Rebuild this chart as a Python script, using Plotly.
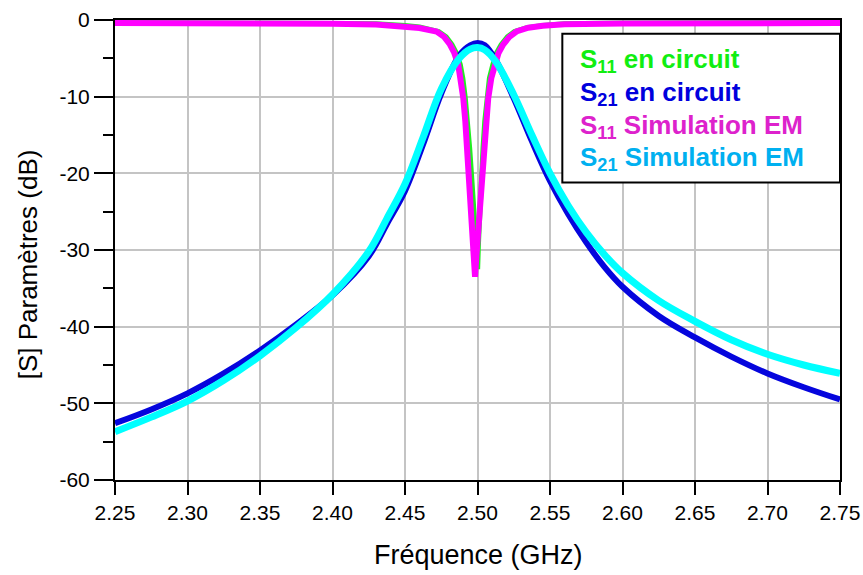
import plotly.graph_objects as go

# ---------------- data ----------------
freq_s21 = [2.25, 2.275, 2.30, 2.325, 2.35, 2.375, 2.40, 2.425, 2.4375, 2.45,
            2.4625, 2.475, 2.4875, 2.495, 2.50, 2.505, 2.5125, 2.525, 2.5375,
            2.55, 2.5625, 2.575, 2.5875, 2.60, 2.625, 2.65, 2.675, 2.70, 2.725, 2.75]
s21_circuit = [-52.6, -50.8, -48.7, -46.1, -43.1, -39.7, -35.9, -30.8, -26.6, -22.3,
               -16.2, -9.6, -4.6, -3.3, -3.0, -3.3, -5.2, -10.2, -15.8,
               -21.0, -25.3, -29.0, -32.2, -34.8, -38.6, -41.4, -43.9, -46.1, -47.9, -49.5]
s21_em = [-53.7, -51.8, -49.7, -47.0, -43.8, -40.1, -35.8, -30.2, -25.9, -21.4,
          -15.3, -9.0, -5.0, -3.8, -3.6, -3.9, -5.4, -9.75, -15.0,
          -20.0, -24.2, -27.7, -30.6, -33.0, -36.6, -39.3, -41.7, -43.6, -45.0, -46.1]

freq_s11_em = [2.25, 2.30, 2.35, 2.40, 2.43, 2.45, 2.46, 2.4718, 2.4770, 2.4810,
               2.4840, 2.4867, 2.4885, 2.4902, 2.4916, 2.4929, 2.4942, 2.4955, 2.4969,
               2.4983, 2.4997, 2.5012, 2.5028, 2.5044, 2.5059, 2.5074, 2.5095, 2.5120,
               2.5145, 2.5177, 2.5220, 2.5269, 2.535, 2.545, 2.56, 2.60, 2.65, 2.70, 2.75]
s11_em = [-0.4, -0.4, -0.45, -0.5, -0.6, -0.8, -1.05, -1.5, -2.2, -3.2,
          -4.3, -5.8, -7.6, -10.2, -13.2, -16.7, -20.8, -25.4, -29.8,
          -33.5, -29.6, -25.4, -20.8, -16.7, -13.2, -10.2, -7.6, -5.8,
          -4.3, -3.2, -2.2, -1.5, -1.0, -0.75, -0.55, -0.45, -0.4, -0.4, -0.4]

freq_s11_circuit = [2.25, 2.35, 2.40, 2.43, 2.45, 2.46, 2.4732, 2.4784, 2.4824, 2.4854,
                    2.4881, 2.4899, 2.4916, 2.4932, 2.4946, 2.4961, 2.4975, 2.4988, 2.5001,
                    2.5007, 2.5014, 2.5026, 2.5038, 2.5050, 2.5063, 2.5082, 2.5106, 2.5131,
                    2.5163, 2.5206, 2.5255, 2.534, 2.545, 2.56, 2.60, 2.70, 2.75]
s11_circuit = [-0.3, -0.35, -0.4, -0.5, -0.7, -0.9, -1.5, -2.2, -3.2, -4.3,
               -5.8, -7.6, -10.2, -13.2, -16.7, -20.8, -25.4, -29.0, -32.5,
               -29.0, -25.4, -20.8, -16.7, -13.2, -10.2, -7.6, -5.8, -4.3,
               -3.2, -2.2, -1.5, -1.0, -0.7, -0.5, -0.4, -0.35, -0.3]

x_ticks = [2.25, 2.30, 2.35, 2.40, 2.45, 2.50, 2.55, 2.60, 2.65, 2.70, 2.75]
x_tick_labels = ["2.25", "2.30", "2.35", "2.40", "2.45", "2.50", "2.55", "2.60", "2.65", "2.70", "2.75"]
y_ticks = [0, -10, -20, -30, -40, -50, -60]
y_tick_labels = ["0", "-10", "-20", "-30", "-40", "-50", "-60"]

legend_labels = ["S<sub>11</sub> en circuit", "S<sub>21</sub> en circuit",
                 "S<sub>11</sub> Simulation EM", "S<sub>21</sub> Simulation EM"]
legend_colors = ["#11ee11", "#0000dd", "#dd22cc", "#00b0f0"]

x_title = "Fréquence (GHz)"
y_title = "[S] Paramètres (dB)"

FONT = "Liberation Sans, Arial, sans-serif"

fig = go.Figure()
fig.add_trace(go.Scatter(x=freq_s11_circuit, y=s11_circuit, mode="lines",
                         line=dict(color="#22ee22", width=5), name="S11 en circuit"))
fig.add_trace(go.Scatter(x=freq_s21, y=s21_circuit, mode="lines", line_shape="spline",
                         line=dict(color="#0505dd", width=6), name="S21 en circuit"))
fig.add_trace(go.Scatter(x=freq_s11_em, y=s11_em, mode="lines",
                         line=dict(color="#ff00ff", width=6), name="S11 Simulation EM"))
fig.add_trace(go.Scatter(x=freq_s21, y=s21_em, mode="lines", line_shape="spline",
                         line=dict(color="#00ffff", width=7), name="S21 Simulation EM"))

fig.update_layout(
    width=863, height=575,
    margin=dict(l=115, r=23, t=20, b=95, autoexpand=False),
    paper_bgcolor="white", plot_bgcolor="white",
    showlegend=False,
    font=dict(family=FONT, color="black"),
    xaxis=dict(range=[2.25, 2.75], tickvals=x_ticks, ticktext=x_tick_labels,
               showgrid=True, gridcolor="#c4c4c4", gridwidth=1.5,
               showline=True, linecolor="black", linewidth=2, mirror=True,
               ticks="outside", ticklen=13, tickwidth=2, tickcolor="black",
               tickfont=dict(size=21, family=FONT, color="black"), zeroline=False),
    yaxis=dict(range=[-60, 0], tickvals=y_ticks, ticktext=y_tick_labels,
               showgrid=True, gridcolor="#c4c4c4", gridwidth=1.5,
               showline=True, linecolor="black", linewidth=2, mirror=True,
               ticks="outside", ticklen=19, tickwidth=2, tickcolor="black",
               minor=dict(dtick=5, ticks="outside", ticklen=10, tickwidth=2,
                          tickcolor="black", showgrid=False),
               tickfont=dict(size=21, family=FONT, color="black"), zeroline=False),
)

# legend box
fig.add_shape(type="rect", xref="paper", yref="paper", x0=0.617, x1=1.0, y0=0.6466, y1=0.970,
              line=dict(color="black", width=2), fillcolor="white", layer="above")

legend_y = [0.9114, 0.8396, 0.7689, 0.6982]
for lab, col, yy in zip(legend_labels, legend_colors, legend_y):
    fig.add_annotation(xref="paper", yref="paper", x=0.638, y=yy, xanchor="left", yanchor="middle",
                       text="<b>" + lab + "</b>", showarrow=False,
                       font=dict(size=26, family=FONT, color=col))

fig.add_annotation(xref="paper", yref="paper", x=-0.1208, y=0.4698, xanchor="center", yanchor="middle",
                   text=y_title, textangle=-90, showarrow=False,
                   font=dict(size=26, family=FONT, color="black"))
fig.add_annotation(xref="paper", yref="paper", x=0.5012, y=-0.1634, xanchor="center", yanchor="middle",
                   text=x_title, showarrow=False,
                   font=dict(size=27, family=FONT, color="black"))

# remove the browser's default 8px body margin so the figure fills the window exactly
fig.write_html("out.html", config={"displayModeBar": False},
               post_script="document.body.style.margin='0';document.body.style.overflow='hidden';")
